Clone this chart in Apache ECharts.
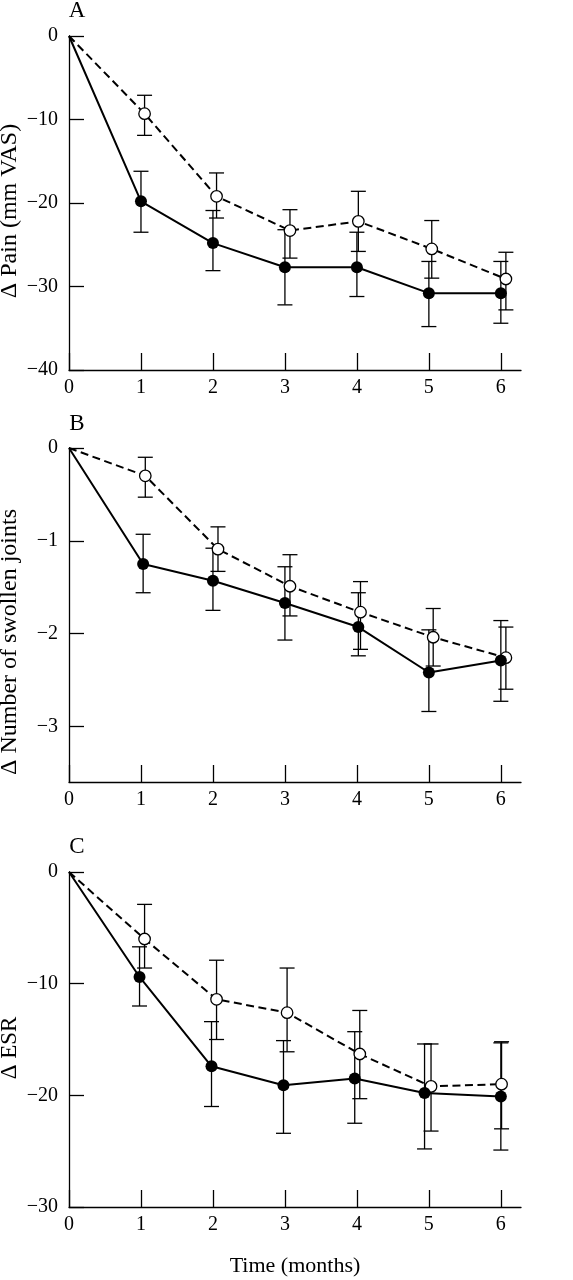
<!DOCTYPE html>
<html>
<head>
<meta charset="utf-8">
<script src="https://cdn.jsdelivr.net/npm/echarts@6/dist/echarts.min.js"></script>
<style>
html,body{margin:0;padding:0;background:#fff;}
#chart{width:573px;height:1280px;}
</style>
</head>
<body>
<div id="chart"></div>
<script>
// ---- data ----
const xTicks = [0, 1, 2, 3, 4, 5, 6];

// Panel A: change in pain (mm VAS)
const painFilledX  = [0, 1, 2, 3, 4, 5, 6];
const painFilled   = [0, -19.8, -24.8, -27.7, -27.7, -30.8, -30.8];
const painFilledHi = [null, -16.2, -20.9, -23.2, -23.5, -27.0, -27.0];
const painFilledLo = [null, -23.5, -28.1, -32.2, -31.2, -34.8, -34.4];
const painOpenX    = [0, 1.05, 2.05, 3.07, 4.02, 5.04, 6.07];
const painOpen     = [0, -9.3, -19.2, -23.3, -22.2, -25.5, -29.1];
const painOpenHi   = [null, -7.1, -16.4, -20.8, -18.6, -22.1, -25.9];
const painOpenLo   = [null, -11.9, -21.8, -26.6, -25.8, -29.0, -32.8];
const painTicks    = [0, -10, -20, -30, -40];

// Panel B: change in number of swollen joints
const jointsFilledX  = [0, 1.03, 2, 3, 4.02, 5, 6];
const jointsFilled   = [0, -1.25, -1.43, -1.67, -1.93, -2.42, -2.29];
const jointsFilledHi = [null, -0.93, -1.08, -1.28, -1.56, -1.96, -1.86];
const jointsFilledLo = [null, -1.56, -1.75, -2.07, -2.24, -2.84, -2.73];
const jointsOpenX    = [0, 1.06, 2.07, 3.07, 4.05, 5.06, 6.07];
const jointsOpen     = [0, -0.30, -1.09, -1.49, -1.77, -2.04, -2.26];
const jointsOpenHi   = [null, -0.10, -0.85, -1.15, -1.44, -1.73, -1.93];
const jointsOpenLo   = [null, -0.53, -1.33, -1.81, -2.17, -2.35, -2.60];
const jointsTicks    = [0, -1, -2, -3];

// Panel C: change in ESR
const esrFilledX  = [0, 0.98, 1.98, 2.98, 3.97, 4.94, 6];
const esrFilled   = [0, -9.4, -17.4, -19.1, -18.5, -19.8, -20.1];
const esrFilledHi = [null, -6.7, -13.4, -15.1, -14.3, -15.4, -15.3];
const esrFilledLo = [null, -12.0, -21.0, -23.4, -22.5, -24.8, -24.9];
const esrOpenX    = [0, 1.05, 2.05, 3.03, 4.04, 5.03, 6.01];
const esrOpen     = [0, -6.0, -11.4, -12.6, -16.3, -19.2, -19.0];
const esrOpenHi   = [null, -2.9, -7.9, -8.6, -12.4, -15.4, -15.2];
const esrOpenLo   = [null, -8.6, -15.0, -16.1, -20.3, -23.2, -23.0];
const esrTicks    = [0, -10, -20, -30];

const panelLetters = ['A', 'B', 'C'];
const yNames = ['\u0394 Pain (mm VAS)', '\u0394 Number of swollen joints', '\u0394 ESR'];
const xName = 'Time (months)';

// ---- chart ----
const FONT = '"Liberation Serif", "DejaVu Serif", serif';
const chart = echarts.init(document.getElementById('chart'), null, {renderer: 'canvas'});

const panels = [
  {fx: painFilledX, fy: painFilled, fhi: painFilledHi, flo: painFilledLo,
   ox: painOpenX, oy: painOpen, ohi: painOpenHi, olo: painOpenLo,
   ticks: painTicks, min: -40, top: 36, height: 334},
  {fx: jointsFilledX, fy: jointsFilled, fhi: jointsFilledHi, flo: jointsFilledLo,
   ox: jointsOpenX, oy: jointsOpen, ohi: jointsOpenHi, olo: jointsOpenLo,
   ticks: jointsTicks, min: -3.6, top: 448, height: 334},
  {fx: esrFilledX, fy: esrFilled, fhi: esrFilledHi, flo: esrFilledLo,
   ox: esrOpenX, oy: esrOpen, ohi: esrOpenHi, olo: esrOpenLo,
   ticks: esrTicks, min: -30, top: 872, height: 335}
];

const fmtMinus = v => (v < 0 ? '\u2212' + Math.abs(v) : String(v));

const grids = [], xAxes = [], yAxes = [], series = [];
panels.forEach((p, i) => {
  grids.push({left: 69, width: 452, top: p.top, height: p.height, containLabel: false});
  xAxes.push({
    type: 'value', gridIndex: i, min: 0, max: 6.28,
    axisLine: {show: true, onZero: false, lineStyle: {color: '#000', width: 1.3}},
    axisTick: {show: true, inside: true, length: 17, customValues: xTicks, lineStyle: {color: '#000', width: 1.3}},
    axisLabel: {show: true, customValues: xTicks, margin: 8, color: '#000', fontFamily: FONT, fontSize: 20},
    splitLine: {show: false},
    name: i === 2 ? xName : '',
    nameLocation: 'middle', nameGap: 48,
    nameTextStyle: {color: '#000', fontFamily: FONT, fontSize: 22}
  });
  yAxes.push({
    type: 'value', gridIndex: i, min: p.min, max: 0,
    axisLine: {show: true, onZero: false, lineStyle: {color: '#000', width: 1.3}},
    axisTick: {show: true, inside: true, length: 15, customValues: p.ticks, lineStyle: {color: '#000', width: 1.3}},
    axisLabel: {show: true, customValues: p.ticks, margin: 11, color: '#000', fontFamily: FONT, fontSize: 20,
                formatter: fmtMinus},
    splitLine: {show: false}
  });

  const errData = (xs, hi, lo) => xs.map((x, k) => hi[k] === null ? null : [x, lo[k], hi[k]]).filter(d => d);
  const errSeries = (data) => ({
    type: 'custom', xAxisIndex: i, yAxisIndex: i, z: 1, silent: true,
    encode: {x: 0, y: [1, 2]},
    data: data,
    renderItem: (params, api) => {
      const x = api.value(0);
      const a = api.coord([x, api.value(2)]);
      const b = api.coord([x, api.value(1)]);
      const w = 7.5;
      const st = {stroke: '#000', lineWidth: 1.3};
      return {type: 'group', children: [
        {type: 'line', shape: {x1: a[0], y1: a[1], x2: b[0], y2: b[1]}, style: st},
        {type: 'line', shape: {x1: a[0] - w, y1: a[1], x2: a[0] + w, y2: a[1]}, style: st},
        {type: 'line', shape: {x1: b[0] - w, y1: b[1], x2: b[0] + w, y2: b[1]}, style: st}
      ]};
    }
  });
  series.push(errSeries(errData(p.fx, p.fhi, p.flo)));
  series.push(errSeries(errData(p.ox, p.ohi, p.olo)));

  const pts = (xs, ys) => xs.map((x, k) => k === 0 ? {value: [x, ys[k]], symbol: 'none'} : {value: [x, ys[k]]});
  series.push({
    type: 'line', xAxisIndex: i, yAxisIndex: i, z: 3, silent: true, animation: false,
    data: pts(p.ox, p.oy),
    symbol: 'circle', symbolSize: 11.5, showSymbol: true,
    lineStyle: {color: '#000', width: 2, type: [8, 4.5]},
    itemStyle: {color: '#fff', borderColor: '#000', borderWidth: 1.3}
  });
  series.push({
    type: 'line', xAxisIndex: i, yAxisIndex: i, z: 4, silent: true, animation: false,
    data: pts(p.fx, p.fy),
    symbol: 'circle', symbolSize: 12, showSymbol: true,
    lineStyle: {color: '#000', width: 2, type: 'solid'},
    itemStyle: {color: '#000', borderColor: '#000', borderWidth: 0}
  });
});

const letterY = [11, 424, 847];
const nameY = [211, 642, 1048];
const nameSize = [24, 24, 23];
const graphics = [];
panelLetters.forEach((t, i) => {
  graphics.push({type: 'text', x: 77, y: letterY[i],
    style: {text: t, fill: '#000', font: '23px ' + FONT, textAlign: 'center', textVerticalAlign: 'middle'}});
  graphics.push({type: 'text', x: 10, y: nameY[i], rotation: Math.PI / 2,
    style: {text: yNames[i], fill: '#000', font: nameSize[i] + 'px ' + FONT, textAlign: 'center', textVerticalAlign: 'middle'}});
});

chart.setOption({
  animation: false,
  backgroundColor: '#fff',
  grid: grids, xAxis: xAxes, yAxis: yAxes, series: series,
  graphic: graphics
});
</script>
</body>
</html>
